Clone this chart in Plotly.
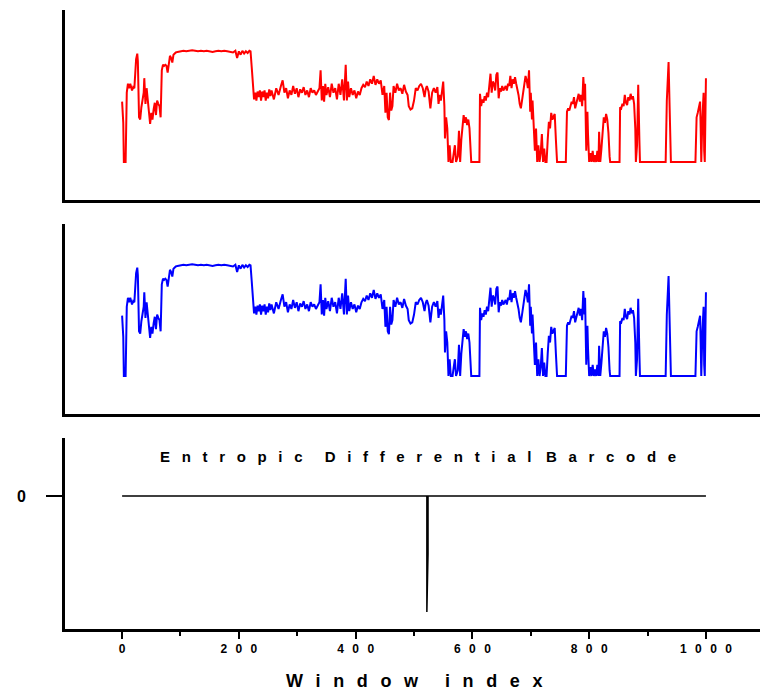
import plotly.graph_objects as go

# ---- data ----
window_idx = [
    0, 2, 3, 6, 8, 10, 12, 14, 17, 19, 21, 24, 26, 27, 29, 31, 33, 35, 37, 38,
    40, 42, 44, 46, 48, 50, 52, 54, 56, 58, 60, 62, 64, 66, 68, 70, 72, 74, 76, 78,
    80, 82, 84, 86, 88, 90, 92, 95, 100, 105, 110, 115, 120, 125, 130, 135, 140, 145, 150, 155,
    160, 165, 170, 175, 180, 185, 190, 194, 197, 200, 203, 206, 209, 212, 215, 218, 220, 222, 224, 226,
    228, 230, 232, 234, 236, 238, 240, 242, 244, 246, 248, 250, 252, 254, 256, 260, 264, 268, 272, 275,
    278, 281, 284, 287, 290, 293, 296, 299, 302, 305, 308, 311, 314, 317, 320, 323, 326, 329, 332, 335,
    338, 340, 342, 344, 346, 348, 350, 353, 356, 359, 362, 365, 368, 371, 374, 377, 380, 383, 385, 387,
    389, 392, 395, 398, 401, 404, 407, 410, 413, 416, 419, 422, 425, 428, 431, 434, 437, 440, 443, 446,
    449, 451, 453, 455, 457, 459, 461, 463, 465, 468, 471, 474, 477, 480, 483, 486, 489, 491, 494, 497,
    500, 503, 506, 509, 512, 515, 518, 520, 522, 525, 528, 531, 534, 537, 540, 542, 544, 546, 548, 550,
    552, 553, 555, 557, 559, 561, 563, 566, 568, 570, 572, 575, 577, 579, 581, 583, 585, 587, 589, 591,
    593, 595, 597, 598, 612, 613, 615, 617, 619, 621, 623, 625, 627, 629, 631, 633, 635, 637, 639, 641,
    643, 645, 647, 649, 651, 653, 655, 657, 659, 661, 663, 665, 667, 669, 671, 673, 675, 677, 679, 681,
    683, 685, 687, 689, 691, 693, 695, 697, 699, 700, 702, 703, 705, 707, 709, 711, 713, 715, 717, 719,
    721, 723, 725, 727, 729, 731, 733, 735, 737, 739, 741, 743, 745, 758, 760, 762, 764, 766, 768, 770,
    772, 774, 776, 778, 780, 782, 784, 786, 788, 790, 792, 793, 795, 797, 798, 800, 802, 804, 806, 808,
    810, 812, 814, 816, 817, 819, 821, 823, 825, 827, 829, 831, 833, 835, 836, 852, 853, 855, 857, 859,
    861, 863, 865, 867, 869, 871, 873, 875, 877, 879, 880, 882, 884, 886, 887, 931, 933, 936, 938, 940,
    982, 984, 986, 988, 990, 991, 992, 994, 996, 997, 998, 1000,
]

entropy_red = [
    0.54, 0.35, 0.00, 0.00, 0.62, 0.70, 0.66, 0.70, 0.64, 0.67, 0.66, 0.92, 0.97, 0.90, 0.40, 0.38, 0.49, 0.55, 0.62, 0.75,
    0.52, 0.66, 0.55, 0.38, 0.34, 0.44, 0.38, 0.47, 0.53, 0.42, 0.55, 0.52, 0.50, 0.40, 0.82, 0.87, 0.86, 0.87, 0.86, 0.80,
    0.90, 0.95, 0.93, 0.89, 0.96, 0.97, 0.98, 0.985, 0.99, 0.995, 0.99, 0.995, 1.00, 0.995, 0.99, 0.995, 0.99, 0.995, 0.99, 0.985,
    0.99, 0.995, 0.99, 0.995, 0.99, 0.985, 0.98, 0.995, 0.93, 0.99, 0.96, 0.995, 0.97, 0.99, 0.975, 0.995, 0.99, 0.85, 0.66, 0.56,
    0.62, 0.55, 0.63, 0.58, 0.64, 0.55, 0.63, 0.58, 0.64, 0.55, 0.62, 0.57, 0.65, 0.59, 0.64, 0.56, 0.66, 0.60, 0.68, 0.73,
    0.62, 0.66, 0.57, 0.64, 0.60, 0.68, 0.61, 0.66, 0.58, 0.65, 0.62, 0.67, 0.60, 0.64, 0.58, 0.66, 0.62, 0.64, 0.60, 0.63,
    0.66, 0.82, 0.55, 0.68, 0.54, 0.70, 0.60, 0.67, 0.58, 0.70, 0.62, 0.66, 0.56, 0.70, 0.60, 0.74, 0.55, 0.87, 0.55, 0.72,
    0.58, 0.66, 0.60, 0.64, 0.57, 0.63, 0.60, 0.66, 0.69, 0.67, 0.72, 0.68, 0.74, 0.70, 0.77, 0.69, 0.74, 0.70, 0.73, 0.60,
    0.68, 0.44, 0.62, 0.40, 0.375, 0.62, 0.46, 0.50, 0.68, 0.62, 0.70, 0.64, 0.66, 0.61, 0.69, 0.63, 0.60, 0.50, 0.47, 0.48,
    0.55, 0.66, 0.64, 0.68, 0.70, 0.66, 0.58, 0.65, 0.68, 0.63, 0.48, 0.62, 0.66, 0.62, 0.67, 0.52, 0.60, 0.55, 0.65, 0.72,
    0.50, 0.21, 0.40, 0.30, 0.00, 0.15, 0.00, 0.00, 0.08, 0.15, 0.00, 0.05, 0.28, 0.00, 0.20, 0.30, 0.42, 0.35, 0.40, 0.33,
    0.38, 0.30, 0.10, 0.00, 0.00, 0.61, 0.50, 0.56, 0.53, 0.59, 0.55, 0.62, 0.58, 0.66, 0.79, 0.62, 0.72, 0.70, 0.64, 0.78,
    0.80, 0.57, 0.66, 0.63, 0.68, 0.64, 0.66, 0.68, 0.64, 0.70, 0.68, 0.77, 0.66, 0.74, 0.70, 0.76, 0.70, 0.66, 0.60, 0.52,
    0.48, 0.55, 0.62, 0.70, 0.77, 0.73, 0.66, 0.82, 0.45, 0.62, 0.38, 0.55, 0.22, 0.10, 0.30, 0.00, 0.15, 0.00, 0.08, 0.25,
    0.00, 0.12, 0.00, 0.00, 0.20, 0.36, 0.30, 0.44, 0.38, 0.40, 0.43, 0.20, 0.00, 0.00, 0.00, 0.45, 0.48, 0.46, 0.50, 0.54,
    0.52, 0.58, 0.48, 0.52, 0.56, 0.61, 0.54, 0.60, 0.50, 0.76, 0.55, 0.70, 0.10, 0.45, 0.25, 0.00, 0.08, 0.00, 0.10, 0.00,
    0.06, 0.00, 0.10, 0.00, 0.27, 0.00, 0.12, 0.30, 0.40, 0.35, 0.43, 0.38, 0.26, 0.05, 0.00, 0.00, 0.49, 0.48, 0.52, 0.50,
    0.60, 0.53, 0.51, 0.58, 0.55, 0.61, 0.56, 0.59, 0.52, 0.30, 0.00, 0.15, 0.69, 0.20, 0.00, 0.00, 0.55, 0.895, 0.50, 0.00,
    0.00, 0.40, 0.44, 0.48, 0.54, 0.30, 0.00, 0.40, 0.62, 0.10, 0.00, 0.75,
]

# second sequence: visually identical to the first
entropy_blue = list(entropy_red)

# differential barcode (zero everywhere except one window)
barcode_idx = [0, 522, 522, 524, 524, 1000]
barcode_val = [0, 0, -1.0, -0.5, 0, 0]

major_ticks = [0, 200, 400, 600, 800, 1000]
minor_ticks = [100, 300, 500, 700, 900]
panel_title_words = ["Entropic", "Differential", "Barcode"]
x_title = "Window index"

# ---- helpers for the letter-spaced typography ----
EN, EM, THIN, HAIR = "\u2002", "\u2003", "\u2009", "\u200a"


def spaced(text, gap, word_gap):
    words = text.split(" ")
    return word_gap.join(gap.join(w) for w in words)


tick_text = [spaced(str(v), EN + THIN, EN) for v in major_ticks]
LG = EN + " "
title_text = (spaced(panel_title_words[0], LG, "") + LG + EN + THIN
              + spaced(panel_title_words[1], LG, "") + LG + THIN
              + spaced(panel_title_words[2], LG, ""))
xlabel_text = spaced(x_title, EN + THIN, EM + EN)

FONT = "Arial, 'Liberation Sans', sans-serif"

fig = go.Figure()
fig.add_trace(go.Scatter(x=window_idx, y=entropy_red, mode="lines",
                         line=dict(color="#ff0000", width=2), xaxis="x", yaxis="y",
                         showlegend=False, hoverinfo="skip"))
fig.add_trace(go.Scatter(x=window_idx, y=entropy_blue, mode="lines",
                         line=dict(color="#0000ff", width=2), xaxis="x2", yaxis="y2",
                         showlegend=False, hoverinfo="skip"))
fig.add_trace(go.Scatter(x=barcode_idx, y=barcode_val, mode="lines",
                         line=dict(color="#000000", width=1.5), xaxis="x3", yaxis="y3",
                         showlegend=False, hoverinfo="skip"))

xr = [-97.8, 1092.6]
plain_x = dict(range=xr, showline=True, linecolor="black", linewidth=3, showgrid=False,
               zeroline=False, showticklabels=False, ticks="")
plain_y = dict(range=[-0.34, 1.36], showline=True, linecolor="black", linewidth=3,
               showgrid=False, zeroline=False, showticklabels=False, ticks="")

fig.update_layout(
    width=760, height=691,
    margin=dict(l=65, r=0, t=10, b=62),
    paper_bgcolor="white", plot_bgcolor="white",
    font=dict(family=FONT, color="black"),
    xaxis=dict(domain=[0, 1], anchor="y", **plain_x),
    yaxis=dict(domain=[0.6931, 1.0], anchor="x", **plain_y),
    xaxis2=dict(domain=[0, 1], anchor="y2", **plain_x),
    yaxis2=dict(domain=[0.3473, 0.6543], anchor="x2", **plain_y),
    xaxis3=dict(domain=[0, 1], anchor="y3", range=xr, showline=True, linecolor="black",
                linewidth=3, showgrid=False, zeroline=False,
                tickmode="array", tickvals=major_ticks, ticktext=tick_text,
                ticks="outside", ticklen=7, tickwidth=2, tickcolor="black",
                tickfont=dict(family=FONT, size=12, color="black", weight="bold"),
                minor=dict(tickmode="array", tickvals=minor_ticks, ticks="outside",
                           ticklen=4, tickwidth=2, tickcolor="black")),
    yaxis3=dict(domain=[0, 0.3086], anchor="x3", range=[-1.147, 0.5], showline=True,
                linecolor="black", linewidth=3, showgrid=False, zeroline=False,
                tickmode="array", tickvals=[0], ticktext=["0"],
                ticks="outside", ticklen=16, tickwidth=1.5, tickcolor="black",
                ticklabelstandoff=17,
                tickfont=dict(family=FONT, size=16, color="black", weight="bold")),
    annotations=[
        dict(text=title_text, xref="x3", yref="y3", x=507, y=0.336,
             xanchor="center", yanchor="middle", showarrow=False,
             font=dict(family=FONT, size=15, color="black", weight="bold")),
        dict(text=xlabel_text, xref="paper", yref="paper", x=0.502, y=-0.084,
             xanchor="center", yanchor="middle", showarrow=False,
             font=dict(family=FONT, size=18, color="black", weight="bold")),
    ],
)

fig.write_html("out.html", config={"displayModeBar": False},
               post_script="document.body.style.margin='0';document.body.style.overflow='hidden';")
